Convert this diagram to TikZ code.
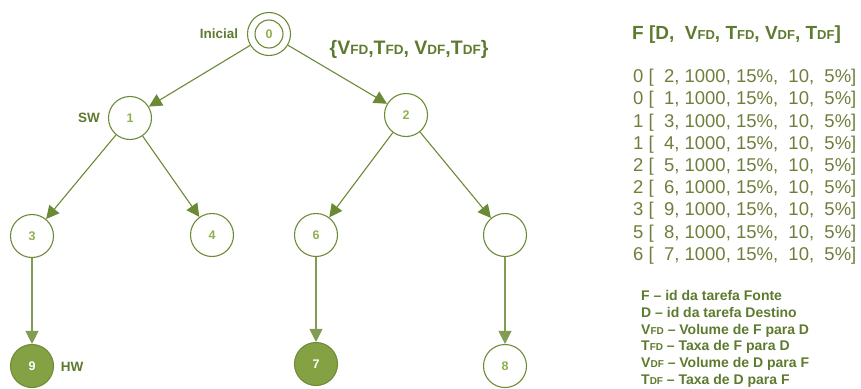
\documentclass[tikz,border=0pt]{standalone}
\usepackage{fontspec}
\setmainfont{Liberation Sans}
\usetikzlibrary{arrows.meta}
\definecolor{lineg}{HTML}{6B8A35}
\definecolor{labg}{HTML}{5E7A2E}
\definecolor{numg}{HTML}{8FB04E}
\definecolor{fillg}{HTML}{84A243}
\definecolor{tabg}{HTML}{6E7F3C}
\newcommand{\smc}[2]{{\fontsize{#1}{#1}\selectfont #2}}
\begin{document}
\begin{tikzpicture}[x=1pt,y=-1pt,
  nd/.style={circle,draw=lineg,line width=1.1pt,minimum size=43pt,inner sep=0pt,
    font=\fontsize{12.5}{12.5}\selectfont\bfseries,text=numg},
  fnd/.style={nd,fill=fillg,draw=fillg!85!black,text=white},
  edge/.style={draw=lineg,line width=1.1pt,-{Triangle[length=13pt,width=13pt]}},
  vedge/.style={edge,draw=lineg!85},
  lab/.style={inner sep=0pt,font=\fontsize{13.5}{13.5}\selectfont\bfseries,text=labg},
  rowtxt/.style={anchor=base west,inner sep=0pt,font=\fontsize{18.5}{18.5}\selectfont,text=tabg},
  legtxt/.style={anchor=base west,inner sep=0pt,font=\fontsize{14}{14}\selectfont\bfseries,text=labg}]
\useasboundingbox (0,0) rectangle (861,388);

% tree nodes
\node[nd] (n0) at (269,34) {0};
\node[circle,draw=lineg,line width=1.1pt,minimum size=28pt,inner sep=0pt] (n0i) at (n0.center) {};
\node[nd] (n1) at (130,118) {1};
\node[nd] (n2) at (406,115) {2};
\node[nd] (n3) at (32,236) {3};
\node[nd] (n4) at (212,235) {4};
\node[nd] (n6) at (316,235) {6};
\node[nd] (n5) at (505,235) {};
\node[fnd] (n9) at (32,366) {9};
\node[fnd] (n7) at (316,364) {7};
\node[nd] (n8) at (505,366) {8};

% edges
\draw[edge] (n0) -- (n1);
\draw[edge] (n0) -- (n2);
\draw[edge] (n1) -- (n3);
\draw[edge] (n1) -- (n4);
\draw[edge] (n2) -- (n6);
\draw[edge] (n2) -- (n5);
\draw[vedge] (n3) -- (n9);
\draw[vedge] (n6) -- (n7);
\draw[vedge] (n5) -- (n8);

% labels
\node[lab] (linicial) at (219,34) {Inicial};
\node[lab] (lsw) at (89,118) {SW};
\node[lab] (lhw) at (72,367) {HW};
\node[inner sep=0pt,font=\fontsize{19.5}{19.5}\selectfont\bfseries,text=labg] (lset) at (409,49)
  {\{V\smc{13.5}{FD},T\smc{13.5}{FD}, V\smc{13.5}{DF},T\smc{13.5}{DF}\}};

% table
\node[anchor=base west,inner sep=0pt,font=\fontsize{19}{19}\selectfont\bfseries,text=labg] (title) at (632,39.8)
  {F [D,\ \ V\smc{13}{FD}, T\smc{13}{FD}, V\smc{13}{DF}, T\smc{13}{DF}]};
\foreach \i/\f/\d in {0/0/2,1/0/1,2/1/3,3/1/4,4/2/5,5/2/6,6/3/9,7/5/8,8/6/7}
  \node[rowtxt] (row\i) at (633,{82.6+22.2*\i}) {\f\ [\ \ \d, 1000, 15\%,\ \ 10,\ \ 5\%]};

% legend
\node[legtxt] (leg1) at (641,300.5) {F -- id da tarefa Fonte};
\node[legtxt] (leg2) at (641,317.3) {D -- id da tarefa Destino};
\node[legtxt] (leg3) at (641,334.1) {V\smc{10}{FD} -- Volume de F para D};
\node[legtxt] (leg4) at (641,350.9) {T\smc{10}{FD} -- Taxa de F para D};
\node[legtxt] (leg5) at (641,367.7) {V\smc{10}{DF} -- Volume de D para F};
\node[legtxt] (leg6) at (641,384.5) {T\smc{10}{DF} -- Taxa de D para F};
\end{tikzpicture}
\end{document}
